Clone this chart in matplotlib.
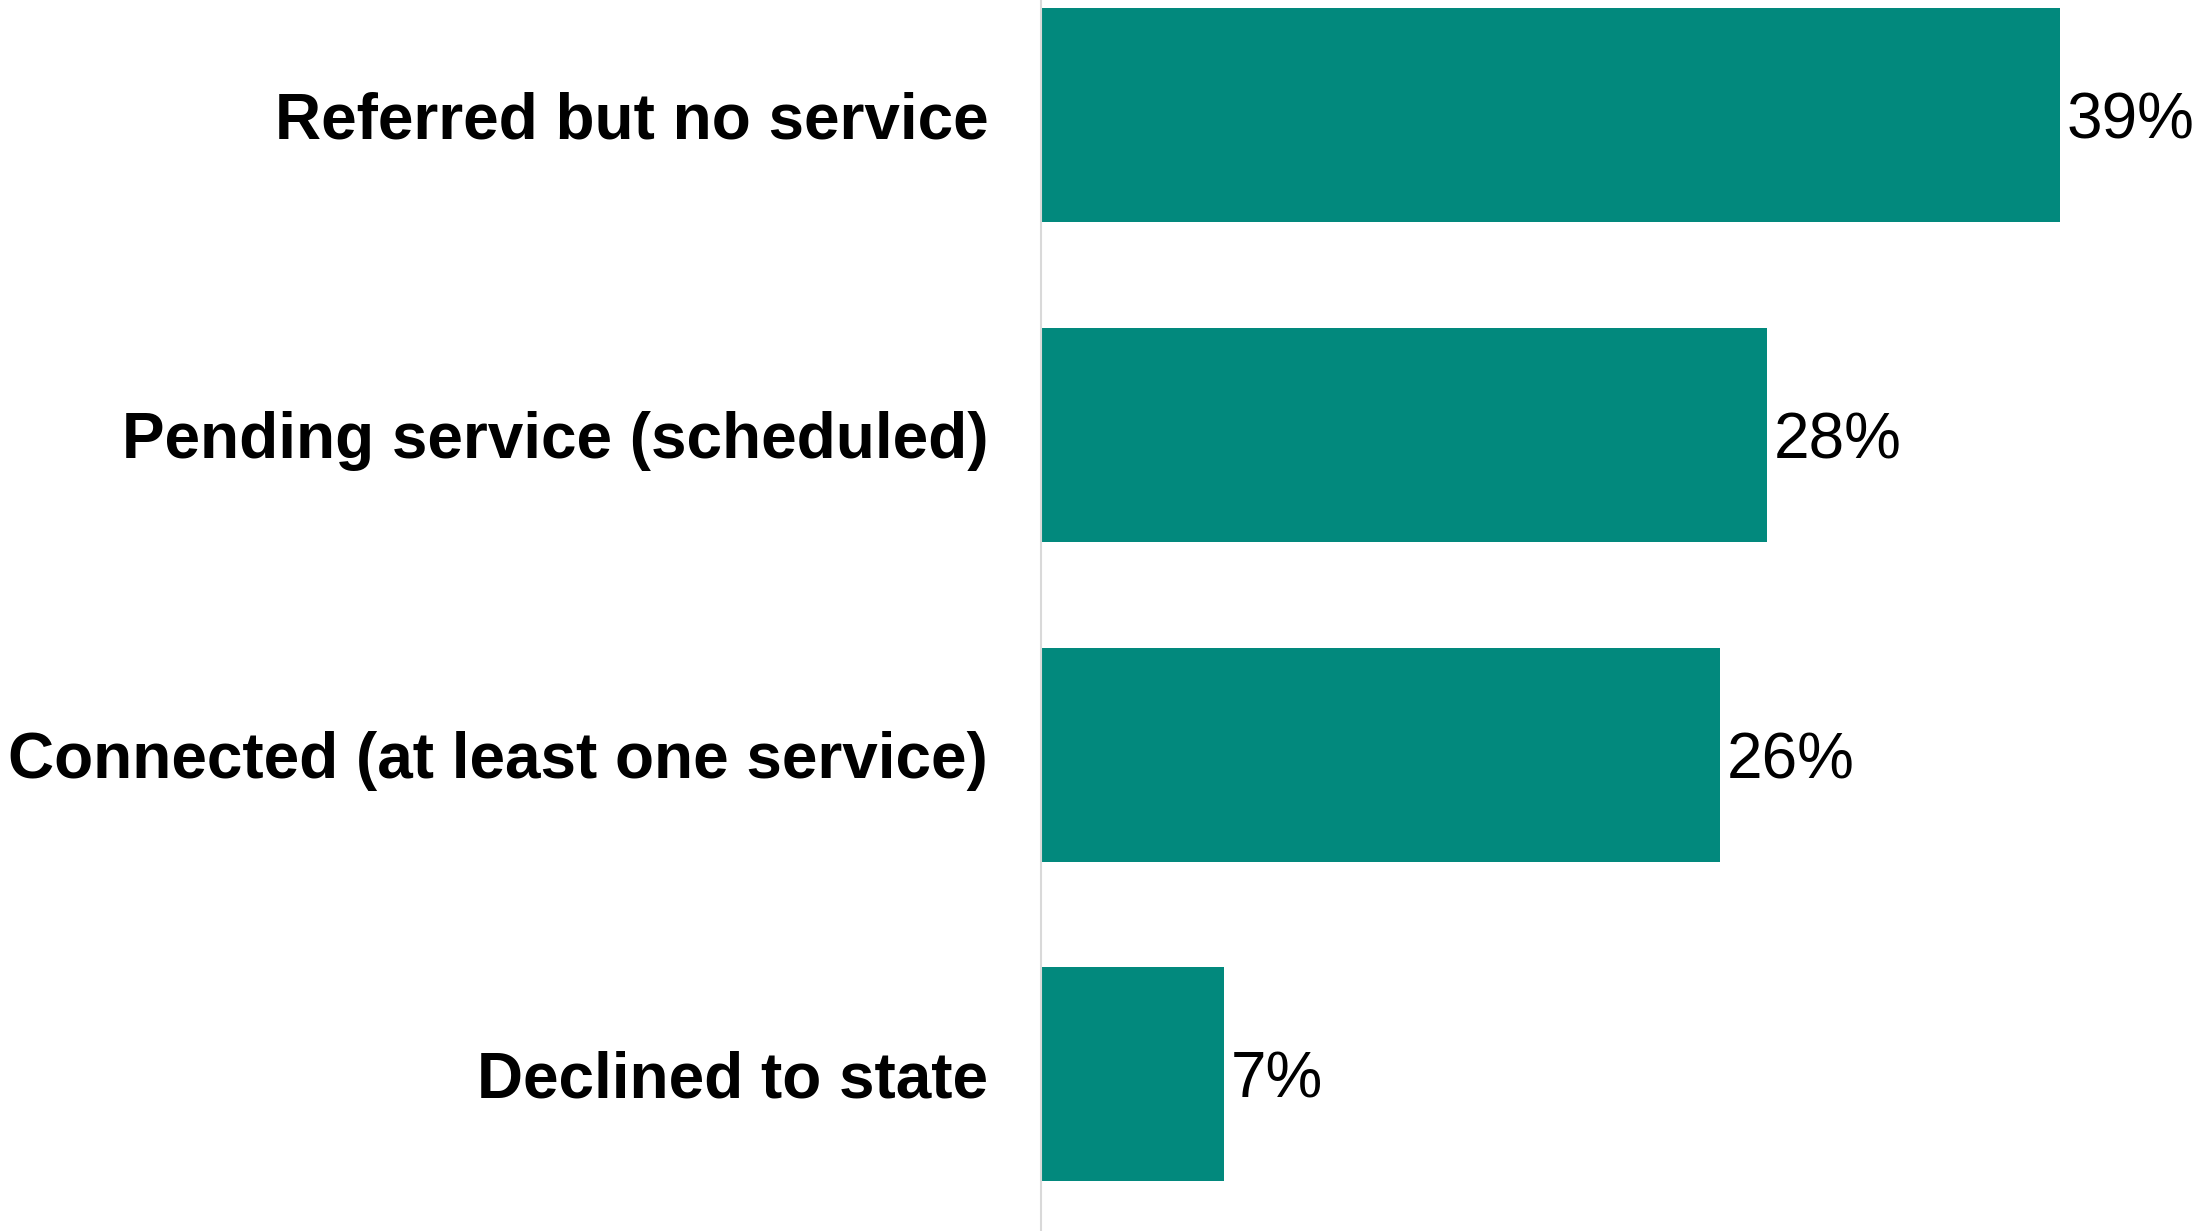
import matplotlib
matplotlib.use("Agg")
import matplotlib.pyplot as plt

categories = ["Referred but no service", "Pending service (scheduled)",
              "Connected (at least one service)", "Declined to state"]
values = [39, 27.8, 26, 7]
value_labels = ["39%", "28%", "26%", "7%"]

plt.rcParams["font.family"] = ["Liberation Sans", "DejaVu Sans"]

fig = plt.figure(figsize=(22.03, 12.31), dpi=100)
ax = fig.add_axes([1041 / 2203, 0, 1 - 1041 / 2203, 1])

y = range(len(categories))
ax.barh(y, values, height=0.669, color="#02897D")

for yi, v, lab in zip(y, values, value_labels):
    ax.text(v + 0.25, yi, lab, va="center_baseline", ha="left", fontsize=46, color="black")

ax.set_yticks(list(y))
ax.set_yticklabels(categories, fontsize=46, fontweight="bold")
ax.tick_params(axis="y", length=0, pad=38)
ax.set_xticks([])
ax.set_xlim(0, 44.47)
ax.set_ylim(3.49, -0.36)

for s in ["top", "right", "bottom"]:
    ax.spines[s].set_visible(False)
ax.spines["left"].set_color("#d9d9d9")
ax.spines["left"].set_linewidth(1.5)

fig.savefig("out.png", dpi=100)
